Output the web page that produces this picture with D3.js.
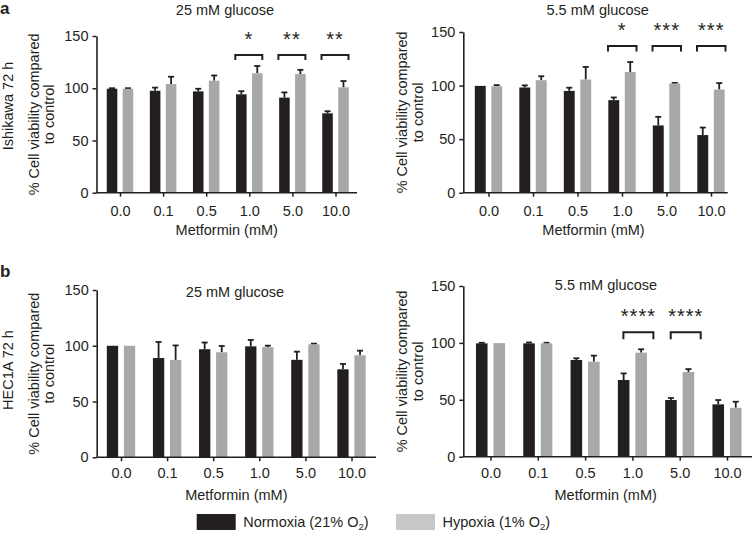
<!DOCTYPE html>
<html>
<head>
<meta charset="utf-8">
<script src="https://cdn.jsdelivr.net/npm/d3@7"></script>
<style>
  html, body { margin: 0; padding: 0; background: #fff; }
  svg { display: block; font-family: "Liberation Sans", Arial, Helvetica, sans-serif; }
</style>
</head>
<body>
<svg id="chart" width="752" height="535"></svg>
<script>
// ---------------- DATA ----------------
const categories = ["0.0", "0.1", "0.5", "1.0", "5.0", "10.0"];
const yTicks = [0, 50, 100, 150];

const ishikawa25Normoxia    = [99.5, 97.6, 97.0, 94.2, 91.0, 76.0];
const ishikawa25NormoxiaErr = [0.5, 3.0, 2.5, 3.0, 5.0, 2.0];
const ishikawa25Hypoxia     = [99.5, 104.0, 107.2, 114.3, 113.6, 100.9];
const ishikawa25HypoxiaErr  = [0.5, 7.0, 5.0, 7.0, 4.0, 6.0];
const ishikawa25Sig         = ["", "", "", "*", "**", "**"];

const ishikawa55Normoxia    = [99.7, 98.2, 95.0, 86.4, 62.8, 53.8];
const ishikawa55NormoxiaErr = [0.0, 2.0, 3.0, 2.5, 8.0, 7.0];
const ishikawa55Hypoxia     = [99.4, 105.0, 105.6, 112.7, 101.9, 96.3];
const ishikawa55HypoxiaErr  = [1.0, 3.7, 11.8, 9.3, 0.6, 6.0];
const ishikawa55Sig         = ["", "", "", "*", "***", "***"];

const hec25Normoxia    = [100.0, 89.0, 96.9, 99.5, 87.4, 78.9];
const hec25NormoxiaErr = [0.0, 14.4, 6.0, 5.7, 7.3, 4.8];
const hec25Hypoxia     = [100.0, 87.3, 94.2, 98.7, 101.3, 91.5];
const hec25HypoxiaErr  = [0.0, 13.0, 5.6, 1.4, 0.6, 4.1];
const hec25Sig         = ["", "", "", "", "", ""];

const hec55Normoxia    = [99.6, 99.6, 85.0, 67.4, 49.8, 46.0];
const hec55NormoxiaErr = [0.5, 0.8, 1.5, 5.8, 1.8, 3.8];
const hec55Hypoxia     = [99.8, 99.6, 83.5, 91.4, 74.4, 43.0];
const hec55HypoxiaErr  = [0.0, 0.5, 5.3, 3.0, 2.6, 5.3];
const hec55Sig         = ["", "", "", "****", "****", ""];

const panelTitles = ["25 mM glucose", "5.5 mM glucose", "25 mM glucose", "5.5 mM glucose"];
const rowLabels = ["Ishikawa 72 h", "HEC1A 72 h"];
const yLabelLines = ["% Cell viability compared", "to control"];
const xTitle = "Metformin (mM)";
const legendLabels = ["Normoxia (21% O", "Hypoxia (1% O"];

// ---------------- STYLE / LAYOUT ----------------
const BLACK = "#231f20";
const GREY = "#a7a8aa";
const LEGEND_GREY = "#c8c8c8";

const layouts = [
  { axisX0: 96.5, axisX1: 357, c0: 120, c1: 335.5, yBottom: 192.7, yTop: 36,
    titleX: 225, titleY: 15, starY: 46, brTop: 55, brLeg: 5, brL: -14, brR: 13,
    tickLabelY: 216, xTitleY: 235, yl1X: 34, yl2X: 49, rowX: 12, rowLabel: 0, rowMid: 106, letter: "a", letterY: 14 },
  { axisX0: 463.3, axisX1: 727.7, c0: 488.5, c1: 711, yBottom: 192.7, yTop: 32,
    titleX: 597.7, titleY: 15, starY: 36.5, brTop: 46, brLeg: 5.5, brL: -14, brR: 14.5,
    tickLabelY: 216, xTitleY: 235, yl1X: 402, yl2X: 418 },
  { axisX0: 96.7, axisX1: 376, c0: 121, c1: 351.5, yBottom: 457.3, yTop: 290,
    titleX: 235, titleY: 297, starY: 0, brTop: 0, brLeg: 0, brL: 0, brR: 0,
    tickLabelY: 478, xTitleY: 500, yl1X: 34, yl2X: 49, rowX: 12, rowLabel: 1, rowMid: 370, letter: "b", letterY: 277 },
  { axisX0: 463.3, axisX1: 752, c0: 490.5, c1: 727, yBottom: 456.7, yTop: 286,
    titleX: 606, titleY: 290, starY: 323, brTop: 332.3, brLeg: 7, brL: -9, brR: 21,
    tickLabelY: 478, xTitleY: 500, yl1X: 402, yl2X: 418 }
];

const panelData = [
  { norm: ishikawa25Normoxia, normErr: ishikawa25NormoxiaErr, hyp: ishikawa25Hypoxia, hypErr: ishikawa25HypoxiaErr, sig: ishikawa25Sig },
  { norm: ishikawa55Normoxia, normErr: ishikawa55NormoxiaErr, hyp: ishikawa55Hypoxia, hypErr: ishikawa55HypoxiaErr, sig: ishikawa55Sig },
  { norm: hec25Normoxia, normErr: hec25NormoxiaErr, hyp: hec25Hypoxia, hypErr: hec25HypoxiaErr, sig: hec25Sig },
  { norm: hec55Normoxia, normErr: hec55NormoxiaErr, hyp: hec55Hypoxia, hypErr: hec55HypoxiaErr, sig: hec55Sig }
];

const svg = d3.select("#chart");
const CAP_W = 6;

layouts.forEach((L, i) => {
  const D = panelData[i];
  const g = svg.append("g");
  const x = d3.scalePoint().domain(categories).range([L.c0, L.c1]);
  const y = d3.scaleLinear().domain([0, 150]).range([L.yBottom, L.yTop]);
  const step = x.step();
  const BAR_W = step * 0.245;
  const BAR_GAP = step * 0.125;

  const series = [
    { vals: D.norm, errs: D.normErr, fill: BLACK, off: -BAR_GAP / 2 - BAR_W },
    { vals: D.hyp, errs: D.hypErr, fill: GREY, off: BAR_GAP / 2 }
  ];
  series.forEach(s => {
    const eg = g.append("g");
    categories.forEach((c, k) => {
      const cx = x(c) + s.off + BAR_W / 2;
      const top = y(s.vals[k] + s.errs[k]);
      if (s.errs[k] > 0.3) {
        eg.append("line").attr("x1", cx).attr("x2", cx)
          .attr("y1", y(s.vals[k])).attr("y2", top)
          .attr("stroke", BLACK).attr("stroke-width", 1.8);
        eg.append("line").attr("x1", cx - CAP_W / 2).attr("x2", cx + CAP_W / 2)
          .attr("y1", top).attr("y2", top)
          .attr("stroke", BLACK).attr("stroke-width", 1.8);
      }
    });
    g.append("g").selectAll("rect").data(categories).join("rect")
      .attr("x", c => x(c) + s.off)
      .attr("width", BAR_W)
      .attr("y", (c, k) => y(s.vals[k]))
      .attr("height", (c, k) => y(0) - y(s.vals[k]))
      .attr("fill", s.fill);
  });

  // y axis
  const ya = g.append("g").attr("transform", `translate(${L.axisX0},0)`)
    .call(d3.axisLeft(y).tickValues(yTicks).tickSize(4).tickSizeOuter(0).tickPadding(4));
  ya.select(".domain").attr("stroke", BLACK).attr("stroke-width", 1.6);
  ya.selectAll(".tick line").attr("stroke", BLACK).attr("stroke-width", 1.5);
  ya.selectAll(".tick text").attr("font-size", 14.5).attr("fill", BLACK)
    .attr("font-family", "Liberation Sans, Arial, sans-serif");

  // x axis
  const xa = g.append("g").attr("transform", `translate(0,${L.yBottom})`)
    .call(d3.axisBottom(x).tickSize(4).tickSizeOuter(0).tickPadding(8));
  xa.select(".domain").attr("d", `M${L.axisX0},0H${L.axisX1}`)
    .attr("stroke", BLACK).attr("stroke-width", 1.6);
  xa.selectAll(".tick line").attr("stroke", BLACK).attr("stroke-width", 1.5);
  xa.selectAll(".tick text").attr("font-size", 14.5).attr("fill", BLACK)
    .attr("font-family", "Liberation Sans, Arial, sans-serif")
    .attr("dy", null).attr("y", L.tickLabelY - L.yBottom);

  // title
  g.append("text").attr("x", L.titleX).attr("y", L.titleY)
    .attr("text-anchor", "middle").attr("font-size", 14.5).attr("fill", BLACK)
    .text(panelTitles[i]);

  // x title
  g.append("text").attr("x", (L.axisX0 + L.axisX1) / 2 + (i % 2 === 0 ? 0 : -2)).attr("y", L.xTitleY)
    .attr("text-anchor", "middle").attr("font-size", 14.5).attr("fill", BLACK)
    .text(xTitle);

  // y label (two lines)
  const yMid = (L.yBottom + L.yTop) / 2;
  [L.yl1X, L.yl2X].forEach((xx, li) => {
    g.append("text")
      .attr("transform", `translate(${xx + 5},${yMid}) rotate(-90)`)
      .attr("text-anchor", "middle").attr("font-size", 14.5).attr("fill", BLACK)
      .text(yLabelLines[li]);
  });

  // row label and panel letter
  if (L.letter) {
    g.append("text")
      .attr("transform", `translate(${L.rowX + 1},${L.rowMid}) rotate(-90)`)
      .attr("text-anchor", "middle").attr("font-size", 14.5).attr("fill", BLACK)
      .text(rowLabels[L.rowLabel]);
    g.append("text").attr("x", 0).attr("y", L.letterY)
      .attr("font-size", 17).attr("font-weight", "bold").attr("fill", BLACK)
      .text(L.letter);
  }

  // significance brackets and stars
  categories.forEach((c, k) => {
    if (!D.sig[k]) return;
    const xl = x(c) + L.brL, xr = x(c) + L.brR;
    g.append("path")
      .attr("d", `M${xl},${L.brTop + L.brLeg}V${L.brTop}H${xr}V${L.brTop + L.brLeg}`)
      .attr("fill", "none").attr("stroke", BLACK).attr("stroke-width", 2);
    g.append("text").attr("x", (xl + xr) / 2).attr("y", L.starY)
      .attr("text-anchor", "middle").attr("font-size", 20).attr("fill", BLACK)
      .attr("letter-spacing", 1)
      .text(D.sig[k]);
  });
});

// legend
const legend = svg.append("g");
const legendItems = [
  { x: 196.7, fill: BLACK, label: legendLabels[0] },
  { x: 396, fill: LEGEND_GREY, label: legendLabels[1] }
];
legendItems.forEach(it => {
  legend.append("rect").attr("x", it.x).attr("y", 514).attr("width", 39).attr("height", 16)
    .attr("fill", it.fill);
  const t = legend.append("text").attr("x", it.x + 46.5).attr("y", 527)
    .attr("font-size", 14.5).attr("fill", BLACK);
  t.append("tspan").text(it.label);
  t.append("tspan").attr("font-size", 9.5).attr("dy", 3).text("2");
  t.append("tspan").attr("dy", -3).text(")");
});
</script>
</body>
</html>
